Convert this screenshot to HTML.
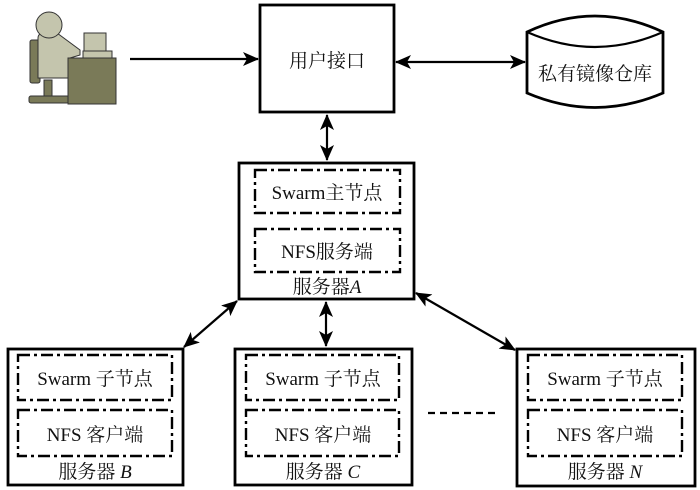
<!DOCTYPE html>
<html><head><meta charset="utf-8"><style>
html,body{margin:0;padding:0;background:#fff}
svg{display:block}
.t{font-family:"Liberation Serif","Times New Roman",Times,"Noto Serif CJK SC",serif;font-size:19px;fill:#111}
</style></head><body>
<svg width="700" height="490" viewBox="0 0 700 490" xmlns="http://www.w3.org/2000/svg">
<defs>
<marker id="ah" markerWidth="16" markerHeight="14" refX="15" refY="7" orient="auto-start-reverse" markerUnits="userSpaceOnUse" viewBox="0 0 16 14">
<path d="M0,0 L16,7 L0,14 L4,7 Z" fill="#000"/>
</marker>
</defs>
<g stroke="#333" stroke-width="1">
<rect x="30" y="40" width="10" height="43" rx="2" fill="#7a7a58"/>
<rect x="44" y="80" width="8" height="18" fill="#7a7a58"/>
<rect x="29" y="96" width="40" height="7" rx="2" fill="#7a7a58"/>
<path d="M38,38 Q38,33 45,33 L57,33 L80,50 L80,55 L70,58 L70,78 L38,78 Z" fill="#c4c5ad"/>
<circle cx="49" cy="25" r="13" fill="#c4c5ad"/>
<rect x="84" y="33" width="22" height="19" fill="#c4c5ad"/>
<rect x="83" y="51" width="29" height="7" fill="#c4c5ad"/>
<rect x="68" y="58" width="48" height="46" fill="#7a7a58"/>
</g>
<g stroke="#000" stroke-width="2.2" fill="none">
<line x1="130" y1="59" x2="258" y2="59" marker-end="url(#ah)"/>
<line x1="396" y1="62" x2="525" y2="62" marker-start="url(#ah)" marker-end="url(#ah)"/>
<line x1="327" y1="115" x2="327" y2="160" marker-start="url(#ah)" marker-end="url(#ah)"/>
<line x1="237" y1="301" x2="184" y2="347" marker-start="url(#ah)" marker-end="url(#ah)"/>
<line x1="326" y1="302" x2="326" y2="346" marker-start="url(#ah)" marker-end="url(#ah)"/>
<line x1="416" y1="293" x2="515" y2="350" marker-start="url(#ah)" marker-end="url(#ah)"/>
<line x1="428" y1="413" x2="498" y2="413" stroke-dasharray="7,5"/>
</g>
<g stroke="#000" stroke-width="2.8" fill="#fff">
<rect x="260" y="5" width="134" height="107"/>
<path d="M527,32 Q595,0 663,32 L663,93 Q595,122 527,93 Z"/>
<rect x="239" y="163" width="175" height="136"/>
<rect x="8" y="349" width="175" height="136"/>
<rect x="235" y="349" width="177" height="136"/>
<rect x="517" y="349" width="178" height="137"/>
</g>
<path d="M527,32 Q595,62 663,32" stroke="#000" stroke-width="2.2" fill="none"/>
<g stroke="#000" stroke-width="2.4" fill="none" stroke-dasharray="12,4,3,4">
<rect x="255" y="170" width="145" height="43"/>
<rect x="255" y="229" width="145" height="43"/>
<rect x="18" y="355" width="154" height="45"/>
<rect x="18" y="410" width="154" height="46"/>
<rect x="246" y="355" width="153" height="45"/>
<rect x="246" y="410" width="153" height="46"/>
<rect x="528" y="355" width="154" height="45"/>
<rect x="528" y="410" width="154" height="46"/>
</g>
<g text-anchor="middle" class="t">
<text class="t" x="327" y="67">用户接口</text>
<text class="t" x="595" y="80">私有镜像仓库</text>
<text class="t" x="327" y="199">Swarm主节点</text>
<text class="t" x="327" y="258">NFS服务端</text>
<text class="t" x="327" y="293">服务器<tspan font-style="italic">A</tspan></text>
<text class="t" x="95" y="385">Swarm 子节点</text>
<text class="t" x="95" y="441">NFS 客户端</text>
<text class="t" x="95" y="478">服务器 <tspan font-style="italic">B</tspan></text>
<text class="t" x="323" y="385">Swarm 子节点</text>
<text class="t" x="323" y="441">NFS 客户端</text>
<text class="t" x="323" y="478">服务器 <tspan font-style="italic">C</tspan></text>
<text class="t" x="605" y="385">Swarm 子节点</text>
<text class="t" x="605" y="441">NFS 客户端</text>
<text class="t" x="605" y="478">服务器 <tspan font-style="italic">N</tspan></text>
</g>
</svg>
</body></html>
